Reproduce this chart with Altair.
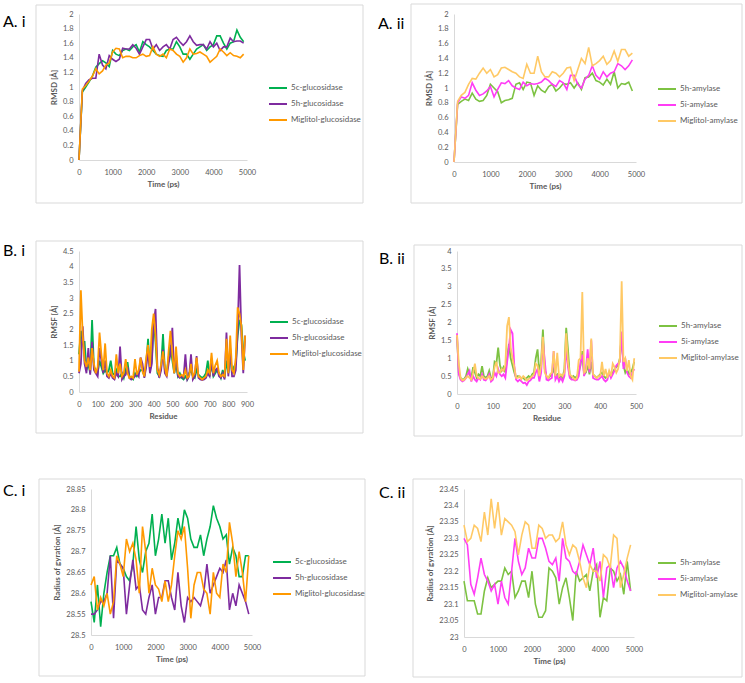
import altair as alt
import pandas as pd

# ---------------- data ----------------
TIME = list(range(0, 5000, 100))
RES_GLU = list(range(0, 900, 10))
RES_AMY = list(range(0, 500, 5))

GLU_NAMES = ["5c-glucosidase", "5h-glucosidase", "Miglitol-glucosidase"]
AMY_NAMES = ["5h-amylase", "5i-amylase", "Miglitol-amylase"]
GLU_COLORS = ["#00B050", "#7E2B9F", "#FF9900"]
AMY_COLORS = ["#7DC242", "#FF3DF5", "#FFC965"]

X_TIME_TICKS = [0, 1000, 2000, 3000, 4000, 5000]
X_GLU_TICKS = [0, 100, 200, 300, 400, 500, 600, 700, 800, 900]
X_AMY_TICKS = [0, 100, 200, 300, 400, 500]
A_Y_TICKS = [0, 0.2, 0.4, 0.6, 0.8, 1, 1.2, 1.4, 1.6, 1.8, 2]
B1_Y_TICKS = [0, 0.5, 1, 1.5, 2, 2.5, 3, 3.5, 4, 4.5]
B2_Y_TICKS = [0, 0.5, 1, 1.5, 2, 2.5, 3, 3.5, 4]
C1_Y_TICKS = [28.5, 28.55, 28.6, 28.65, 28.7, 28.75, 28.8, 28.85]
C2_Y_TICKS = [23, 23.05, 23.1, 23.15, 23.2, 23.25, 23.3, 23.35, 23.4, 23.45]

# A.i RMSD glucosidase
A1_5C = [0, 0.93, 1.0, 1.07, 1.15, 1.27, 1.32, 1.36, 1.33, 1.28,
         1.5, 1.45, 1.43, 1.5, 1.52, 1.5, 1.55, 1.58, 1.48, 1.62,
         1.58, 1.55, 1.5, 1.45, 1.43, 1.42, 1.5, 1.52, 1.52, 1.62,
         1.55, 1.45, 1.45, 1.38, 1.45, 1.52, 1.55, 1.58, 1.5, 1.55,
         1.58, 1.7, 1.7, 1.6, 1.52, 1.6, 1.62, 1.78, 1.68, 1.62]
A1_5H = [0, 0.95, 1.05, 1.1, 1.12, 1.12, 1.45, 1.3, 1.25, 1.43,
         1.38, 1.35, 1.38, 1.53, 1.52, 1.52, 1.58, 1.53, 1.45, 1.55,
         1.65, 1.65, 1.52, 1.58, 1.5, 1.55, 1.58, 1.52, 1.65, 1.68,
         1.62, 1.57, 1.62, 1.7, 1.62, 1.57, 1.58, 1.58, 1.52, 1.62,
         1.55, 1.6, 1.5, 1.55, 1.55, 1.67, 1.62, 1.63, 1.63, 1.6]
A1_MIG = [0, 0.97, 1.02, 1.08, 1.15, 1.25, 1.18, 1.22, 1.3, 1.33,
          1.48, 1.53, 1.52, 1.4, 1.42, 1.42, 1.4, 1.4, 1.43, 1.45,
          1.42, 1.43, 1.55, 1.45, 1.42, 1.45, 1.4, 1.52, 1.5, 1.45,
          1.42, 1.34, 1.4, 1.52, 1.45, 1.46, 1.48, 1.45, 1.42, 1.34,
          1.38, 1.42, 1.52, 1.48, 1.43, 1.47, 1.43, 1.42, 1.4, 1.45]

# A.ii RMSD amylase
A2_5H = [0, 0.78, 0.82, 0.85, 0.83, 0.93, 0.85, 0.82, 0.83, 0.9,
         1.05, 1.0, 0.95, 0.8, 0.83, 0.84, 0.86, 1.05, 1.07, 0.98,
         1.08, 1.07, 0.9, 1.03, 0.97, 0.94, 1.02, 1.05, 0.96, 1.0,
         1.06, 1.05, 1.07, 1.0, 1.07, 0.98, 1.14, 1.15, 1.2, 1.1,
         1.08, 1.04, 1.12, 1.05, 1.22, 1.0, 1.06, 1.05, 1.08, 0.96]
A2_5I = [0, 0.8, 0.88, 0.86, 0.9, 1.07, 0.97, 0.9, 0.92, 0.96,
         1.02, 0.88, 0.98, 1.07, 1.06, 1.1, 1.03, 1.0, 0.98, 1.08,
         1.03, 1.06, 1.05, 1.06, 1.08, 1.13, 1.1, 1.05, 1.02, 1.1,
         1.07, 0.98, 1.17, 1.17, 1.05, 1.0, 1.12, 1.17, 1.3, 1.17,
         1.12, 1.22, 1.15, 1.2, 1.22, 1.33, 1.3, 1.25, 1.3, 1.38]
A2_MIG = [0, 0.82, 0.9, 0.94, 1.05, 1.13, 1.12, 1.2, 1.27, 1.2,
          1.25, 1.15, 1.18, 1.27, 1.28, 1.25, 1.22, 1.2, 1.15, 1.13,
          1.32, 1.2, 1.2, 1.43, 1.22, 1.15, 1.15, 1.22, 1.2, 1.15,
          1.2, 1.27, 1.28, 1.1, 1.25, 1.4, 1.33, 1.55, 1.3, 1.33,
          1.37, 1.43, 1.32, 1.37, 1.5, 1.36, 1.52, 1.52, 1.43, 1.47]

# B.i RMSF glucosidase (every 10 residues)
B1_5C = [1.2, 1.95, 1.6, 1.6, 0.7, 0.9, 0.6, 2.3, 0.8, 0.7,
         0.6, 1.0, 0.8, 0.6, 0.7, 0.6, 0.7, 1.0, 0.6, 0.55,
         0.7, 0.5, 0.5, 0.6, 0.45, 0.7, 0.95, 0.5, 0.45, 0.4,
         0.6, 0.5, 0.6, 0.7, 0.7, 0.5, 0.9, 1.7, 0.7, 1.0,
         2.3, 1.6, 0.6, 0.5, 0.8, 1.85, 0.7, 0.6, 1.1, 1.5,
         1.0, 0.6, 0.9, 0.5, 0.6, 0.45, 0.4, 0.5, 0.4, 0.6,
         0.7, 0.5, 0.45, 0.7, 0.55, 0.5, 0.45, 0.5, 0.6, 1.0,
         0.5, 0.9, 0.5, 0.6, 0.7, 0.6, 0.45, 0.7, 0.45, 1.0,
         0.6, 1.2, 0.6, 0.8, 0.9, 1.8, 2.3, 2.15, 1.3, 1.0]
B1_5H = [0.6, 0.9, 2.1, 0.9, 0.6, 1.4, 0.55, 1.6, 0.7, 0.6,
         0.5, 1.4, 1.0, 0.6, 1.0, 0.5, 0.45, 0.6, 0.45, 0.4,
         0.6, 0.5, 1.45, 0.4, 0.5, 0.55, 0.8, 0.45, 0.4, 0.45,
         0.5, 0.6, 0.5, 1.1, 0.9, 0.45, 0.8, 1.3, 0.6, 0.9,
         2.2, 2.65, 0.8, 0.45, 0.7, 1.35, 0.6, 0.5, 0.9, 1.2,
         2.05, 0.6, 1.2, 0.5, 0.45, 0.5, 0.45, 1.2, 0.4, 0.5,
         1.2, 0.4, 0.5, 1.15, 0.45, 0.4, 0.38, 0.4, 0.45, 0.6,
         0.5, 1.0, 0.5, 0.7, 0.75, 0.5, 0.45, 0.6, 0.4, 1.9,
         0.5, 1.4, 0.5, 0.5, 0.7, 2.0, 4.05, 1.8, 0.6, 1.8]
B1_MIG = [0.65, 3.25, 1.8, 1.0, 0.8, 1.1, 0.7, 1.4, 0.9, 0.6,
          0.8, 1.9, 1.2, 0.7, 1.55, 0.6, 0.5, 0.7, 0.5, 0.45,
          1.2, 0.6, 0.9, 0.5, 0.6, 1.05, 0.6, 0.45, 0.5, 0.45,
          1.05, 0.55, 0.7, 1.1, 0.65, 0.5, 1.1, 1.5, 0.8, 2.0,
          2.5, 1.8, 0.7, 0.55, 0.9, 1.3, 0.8, 0.5, 1.3, 1.95,
          1.2, 0.6, 1.45, 0.6, 0.5, 0.55, 0.5, 0.7, 0.45, 0.5,
          0.9, 0.5, 0.6, 1.1, 0.5, 0.45, 0.4, 0.45, 0.5, 0.7,
          0.6, 1.25, 0.6, 0.85, 1.0, 0.6, 0.5, 0.55, 0.5, 1.7,
          0.6, 1.8, 0.7, 0.6, 1.1, 2.7, 2.5, 2.1, 0.7, 1.8]

# B.ii RMSF amylase (every 5 residues)
B2_5H = [1.6, 0.6, 0.45, 0.4, 0.42, 0.5, 0.7, 0.55, 0.45, 0.75,
         0.6, 0.45, 0.55, 0.5, 0.78, 0.5, 0.45, 0.5, 0.65, 0.45,
         0.45, 0.9, 0.85, 1.3, 0.8, 0.65, 0.75, 0.6, 1.0, 1.4,
         1.0, 0.8, 0.6, 0.45, 0.5, 0.48, 0.45, 0.45, 0.4, 0.45,
         0.5, 0.45, 0.55, 0.6, 1.0, 1.25, 0.6, 0.9, 1.8, 0.7,
         0.5, 0.45, 0.5, 0.55, 0.7, 0.5, 0.55, 0.45, 0.5, 0.45,
         0.7, 1.85, 1.25, 0.5, 0.45, 0.5, 0.45, 0.5, 0.6, 0.8,
         1.2, 0.55, 0.6, 0.8, 0.55, 0.9, 0.55, 0.5, 0.45, 0.5,
         0.55, 0.6, 0.5, 0.45, 0.5, 0.55, 0.5, 0.6, 0.7, 0.75,
         0.8, 1.0, 1.7, 0.8, 0.6, 0.7, 0.55, 0.6, 0.7, 0.9]
B2_5I = [1.7, 0.55, 0.4, 0.35, 0.38, 0.45, 0.55, 0.65, 0.35, 0.5,
         0.4, 0.35, 0.45, 0.4, 0.55, 0.4, 0.38, 0.45, 0.55, 0.35,
         0.4, 0.6, 0.5, 0.7, 0.55, 0.5, 0.55, 0.45, 0.9, 1.3,
         1.8, 1.7, 0.8, 0.4, 0.35, 0.4, 0.35, 0.3, 0.32, 0.25,
         0.35, 0.38, 0.45, 0.45, 0.6, 0.7, 0.35, 0.6, 1.5, 0.95,
         0.4, 0.38, 0.42, 0.45, 1.2, 0.4, 0.5, 0.35, 0.45, 0.35,
         0.5, 1.3, 0.75, 0.45, 0.4, 0.4, 0.38, 0.4, 0.5, 0.9,
         1.1, 0.5, 0.7, 1.25, 0.6, 1.5, 0.45, 0.42, 0.4, 0.4,
         0.45, 0.5, 0.4, 0.35, 0.4, 0.6, 0.45, 0.55, 0.65, 0.8,
         0.85, 0.9, 1.75, 0.7, 1.0, 0.6, 0.5, 0.45, 0.6, 0.7]
B2_MIG = [1.65, 0.85, 0.45, 0.38, 0.4, 0.45, 0.5, 0.45, 0.4, 0.6,
          0.85, 0.5, 0.45, 0.42, 0.5, 0.45, 0.42, 0.45, 0.5, 0.4,
          0.45, 0.75, 0.9, 0.6, 0.6, 0.7, 0.65, 0.8, 1.9, 2.15,
          1.3, 1.0, 0.75, 0.45, 0.45, 0.5, 0.42, 0.5, 0.45, 0.38,
          0.42, 0.45, 0.5, 0.55, 0.85, 0.8, 0.5, 0.8, 1.6, 0.6,
          0.5, 0.45, 0.55, 0.6, 1.2, 0.5, 1.15, 0.5, 0.55, 0.5,
          0.6, 1.7, 0.9, 0.55, 0.5, 0.45, 0.4, 0.45, 0.95, 1.0,
          2.85, 0.6, 0.65, 1.0, 0.7, 1.55, 0.55, 0.5, 0.45, 0.5,
          0.5, 0.9, 0.5, 0.7, 0.45, 0.65, 0.5, 0.85, 0.75, 0.6,
          0.7, 1.0, 3.15, 0.9, 1.0, 0.65, 0.95, 0.5, 0.4, 1.0]

# C.i radius of gyration glucosidase
C1_5C = [28.58, 28.53, 28.62, 28.52, 28.6, 28.65, 28.69, 28.69, 28.71, 28.67,
         28.66, 28.64, 28.63, 28.67, 28.76, 28.68, 28.65, 28.7, 28.72, 28.79,
         28.69, 28.73, 28.79, 28.72, 28.78, 28.68, 28.72, 28.78, 28.74, 28.8,
         28.78, 28.73, 28.71, 28.71, 28.74, 28.69, 28.73, 28.76, 28.81, 28.78,
         28.76, 28.73, 28.74, 28.67, 28.71, 28.69, 28.64, 28.64, 28.69, 28.69]
C1_5H = [28.55, 28.55, 28.56, 28.58, 28.58, 28.6, 28.69, 28.54, 28.68, 28.67,
         28.66, 28.55, 28.62, 28.68, 28.61, 28.62, 28.56, 28.55, 28.59, 28.62,
         28.55, 28.59, 28.59, 28.63, 28.63, 28.59, 28.56, 28.65, 28.57, 28.53,
         28.59, 28.58, 28.59, 28.58, 28.57, 28.6, 28.67, 28.6, 28.62, 28.64,
         28.66, 28.65, 28.68, 28.56, 28.6, 28.57, 28.62, 28.6, 28.58, 28.55]
C1_MIG = [28.62, 28.64, 28.56, 28.59, 28.57, 28.6, 28.55, 28.58, 28.69, 28.67,
          28.64, 28.73, 28.7, 28.72, 28.68, 28.6, 28.76, 28.7, 28.6, 28.66,
          28.62, 28.61, 28.58, 28.63, 28.58, 28.62, 28.69, 28.75, 28.73, 28.76,
          28.66, 28.54, 28.62, 28.65, 28.65, 28.61, 28.6, 28.55, 28.65, 28.6,
          28.59, 28.67, 28.65, 28.77, 28.72, 28.64, 28.7, 28.65, 28.58, 28.69]

# C.ii radius of gyration amylase
C2_5H = [23.17, 23.11, 23.11, 23.11, 23.07, 23.07, 23.14, 23.18, 23.15, 23.16,
         23.17, 23.17, 23.21, 23.19, 23.2, 23.12, 23.14, 23.17, 23.17, 23.12,
         23.2, 23.1, 23.06, 23.06, 23.08, 23.21, 23.2, 23.18, 23.1, 23.15,
         23.18, 23.12, 23.05, 23.2, 23.17, 23.18, 23.19, 23.14, 23.2, 23.22,
         23.06, 23.12, 23.11, 23.21, 23.2, 23.17, 23.19, 23.13, 23.23, 23.14]
C2_5I = [23.3, 23.28, 23.16, 23.13, 23.18, 23.24, 23.19, 23.17, 23.14, 23.16,
         23.1, 23.17, 23.12, 23.1, 23.2, 23.3, 23.23, 23.19, 23.21, 23.27,
         23.24, 23.24, 23.3, 23.3, 23.27, 23.23, 23.22, 23.24, 23.17, 23.3,
         23.24, 23.23, 23.2, 23.19, 23.23, 23.28, 23.25, 23.22, 23.27, 23.18,
         23.23, 23.12, 23.21, 23.22, 23.15, 23.21, 23.23, 23.21, 23.17, 23.14]
C2_MIG = [23.34, 23.29, 23.3, 23.34, 23.33, 23.29, 23.38, 23.31, 23.42, 23.33,
          23.41, 23.31, 23.36, 23.35, 23.34, 23.32, 23.25, 23.31, 23.35, 23.34,
          23.27, 23.27, 23.34, 23.33, 23.3, 23.31, 23.31, 23.29, 23.3, 23.35,
          23.28, 23.25, 23.28, 23.27, 23.23, 23.18, 23.15, 23.22, 23.2, 23.2,
          23.17, 23.25, 23.24, 23.21, 23.31, 23.3, 23.15, 23.19, 23.24, 23.28]

# ---------------- styling ----------------
FONT = "Lato"
TXT = "#595959"
FRAME = "#D9D9D9"


def panel(key, xs, names, series, colors, xdom, xticks, ydom, yticks, xtitle, ytitle,
          W, H, frame, label, lpos, legpos, sw, xoff=0):
    rows = []
    for n, vals in zip(names, series):
        for x, v in zip(xs, vals):
            rows.append({"x": x, "v": v, key: n})
    df = pd.DataFrame(rows)
    one = pd.DataFrame({"k": [0]})
    box = alt.Chart(one).mark_rect(fillOpacity=0, stroke=FRAME, strokeWidth=1).encode(
        x=alt.value(frame[0]), x2=alt.value(frame[1]),
        y=alt.value(frame[2]), y2=alt.value(frame[3]))
    tag = alt.Chart(one).mark_text(align="left", baseline="middle", font=FONT,
                                   fontSize=16, color="#000000").encode(
        x=alt.value(lpos[0]), y=alt.value(lpos[1]), text=alt.value(label))
    xscale = alt.Scale(domain=xdom, nice=False, zero=False)
    yaxis = alt.Axis(values=yticks, format="~r")
    if xoff:
        xscale = alt.Scale(domain=xdom, nice=False, zero=False, range=[xoff, W + xoff])
        yaxis = alt.Axis(values=yticks, format="~r", offset=-xoff)
    lines = alt.Chart(df).mark_line(strokeWidth=sw).encode(
        x=alt.X("x:Q", title=xtitle, scale=xscale,
                axis=alt.Axis(values=xticks, format="~r")),
        y=alt.Y("v:Q", title=ytitle,
                scale=alt.Scale(domain=ydom, nice=False, zero=False),
                axis=yaxis),
        color=alt.Color(f"{key}:N", title=None,
                        scale=alt.Scale(domain=names, range=colors),
                        legend=alt.Legend(orient="none", legendX=legpos[0], legendY=legpos[1])),
    )
    return alt.layer(box, tag, lines).properties(width=W + xoff, height=H)


a1 = panel("s1", TIME, GLU_NAMES, [A1_5C, A1_5H, A1_MIG], GLU_COLORS, [0, 5000], X_TIME_TICKS,
           [0, 2], A_Y_TICKS, "Time (ps)", "RMSD [Å]", 168, 146,
           (-43, 284, -9, 189), "A. i", (-76, 8), (189, 64), 1.6)
a2 = panel("s2", TIME, AMY_NAMES, [A2_5H, A2_5I, A2_MIG], AMY_COLORS, [0, 5000], X_TIME_TICKS,
           [0, 2], A_Y_TICKS, "Time (ps)", "RMSD [Å]", 182, 148,
           (-43, 288, -10, 189), "A. ii", (-76, 10), (203, 65), 1.6)
b1 = panel("s3", RES_GLU, GLU_NAMES, [B1_5C, B1_5H, B1_MIG], GLU_COLORS, [0, 900], X_GLU_TICKS,
           [0, 4.5], B1_Y_TICKS, "Residue", "RMSF [Å]", 168, 141,
           (-43, 284, -10, 182), "B. i", (-76, 0), (190, 61), 1.8)
b2 = panel("s4", RES_AMY, AMY_NAMES, [B2_5H, B2_5I, B2_MIG], AMY_COLORS, [0, 500], X_AMY_TICKS,
           [0, 4], B2_Y_TICKS, "Residue", "RMSF [Å]", 179, 143,
           (-43, 285, -6, 185), "B. ii", (-78, 8), (201, 65), 1.8)
c1 = panel("s5", TIME, GLU_NAMES, [C1_5C, C1_5H, C1_MIG], GLU_COLORS, [0, 5000], X_TIME_TICKS,
           [28.5, 28.85], C1_Y_TICKS, "Time (ps)", "Radius of gyration [Å]", 161, 146,
           (-40, 286, -10, 187), "C. i", (-76, 2), (193, 63), 1.6, xoff=12)
c2 = panel("s6", TIME, AMY_NAMES, [C2_5H, C2_5I, C2_MIG], AMY_COLORS, [0, 5000], X_TIME_TICKS,
           [23, 23.45], C2_Y_TICKS, "Time (ps)", "Radius of gyration [Å]", 170, 148,
           (-51, 278, -10, 188), "C. ii", (-85, 4), (193, 64), 1.6)

row1 = alt.hconcat(a1, a2, spacing=14).resolve_scale(color="independent").resolve_legend(color="independent")
row2 = alt.hconcat(b1, b2, spacing=15).resolve_scale(color="independent").resolve_legend(color="independent")
row3 = alt.hconcat(c1, c2, spacing=13).resolve_scale(color="independent").resolve_legend(color="independent")

lower = (alt.vconcat(row2, row3, spacing=41)
         .resolve_scale(color="independent").resolve_legend(color="independent"))

chart = (
    alt.vconcat(row1, lower, spacing=36)
    .resolve_scale(color="independent")
    .resolve_legend(color="independent")
    .properties(padding={"left": 3, "top": 3, "right": 0, "bottom": 0}, background="white")
    .configure_view(stroke=None)
    .configure_axis(labelFont=FONT, labelFontSize=7.5, labelColor=TXT, titleFont=FONT,
                    titleFontSize=8, titleColor=TXT, titleFontWeight="bold",
                    domainColor=FRAME, ticks=False, tickSize=0, grid=False,
                    labelFlush=False, labelOverlap=False)
    .configure_axisX(labelPadding=8, titlePadding=5)
    .configure_axisY(labelPadding=6, titlePadding=4)
    .configure_legend(symbolType="stroke", symbolStrokeWidth=2, symbolSize=324,
                      labelFont=FONT, labelFontSize=8, labelColor=TXT, padding=0,
                      rowPadding=2, labelOffset=3)
)

chart.save("out.html", embed_options={"renderer": "svg", "actions": False})
